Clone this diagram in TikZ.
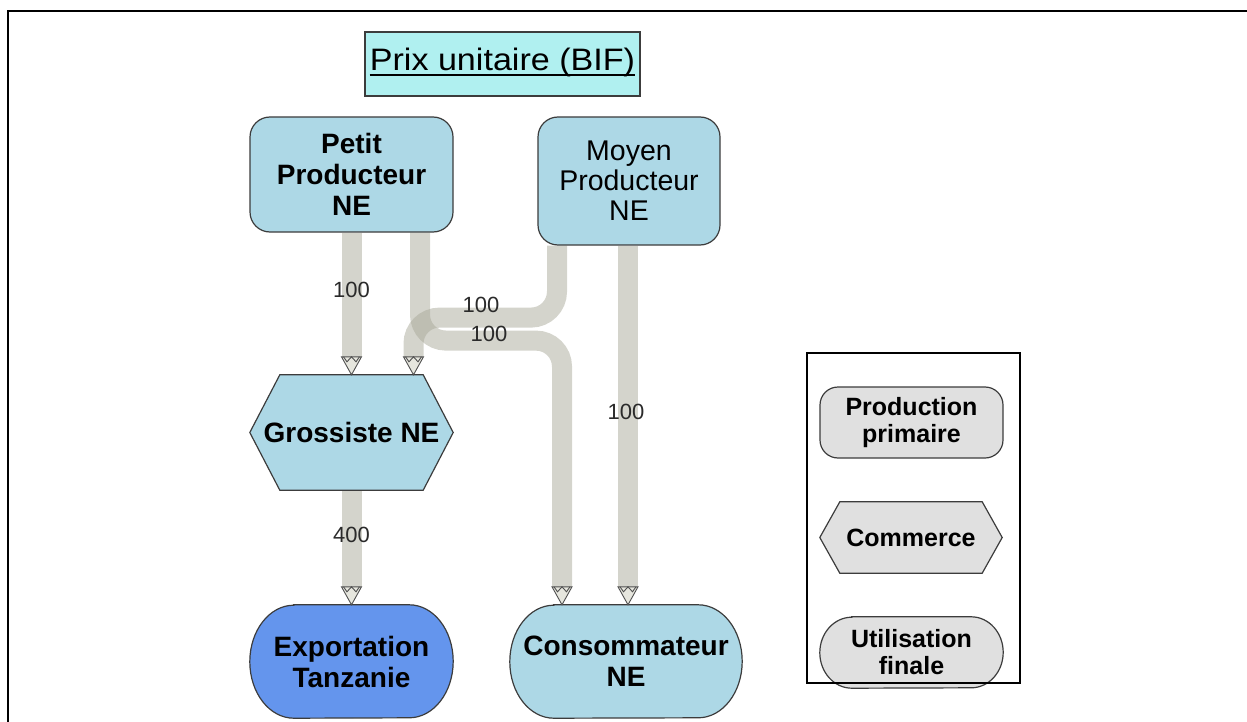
\documentclass[tikz,border=0pt]{standalone}
\usepackage{fontspec}
\setmainfont{Liberation Sans}
\usetikzlibrary{calc}

\pgfdeclarelayer{bandlayer}
\pgfdeclarelayer{shapelayer}
\pgfsetlayers{bandlayer,shapelayer,main}

\definecolor{nodeblue}{HTML}{ADD8E6}
\definecolor{exportblue}{HTML}{6495ED}
\definecolor{titlecyan}{HTML}{B0F0F0}
\definecolor{legendgray}{HTML}{E0E0E0}
\definecolor{edgegray}{HTML}{3C3C3C}
\definecolor{bandgray}{HTML}{A9A999}
\definecolor{tipfill}{HTML}{E6E6DE}
\definecolor{tipedge}{HTML}{505050}
\definecolor{labelgray}{HTML}{2A2A2A}

\tikzset{
  x=1pt, y=-1pt,
  every node/.style={align=center, inner sep=0pt},
  shapeedge/.style={draw=edgegray, line width=1.2pt},
  nodetext/.style={font=\fontsize{28}{31}\selectfont\bfseries},
  nodetextreg/.style={font=\fontsize{28.5}{30}\selectfont},
  legendtext/.style={font=\fontsize{25}{27}\selectfont\bfseries},
  flowlabel/.style={font=\fontsize{22}{24}\selectfont, text=labelgray},
  prodbox/.style={shapeedge, rectangle, rounded corners=20pt},
  band/.style={draw=bandgray, draw opacity=0.5, line width=20pt, rounded corners=26pt},
  tipstyle/.style={draw=tipedge, line width=0.9pt, fill=tipfill, line join=miter},
  pics/flowtip/.style={code={
    \draw[tipstyle] (0,0) -- (-10,-18) -- (10,-18) -- cycle;
    \draw[tipstyle, fill=none] (-8,-18) -- (-4.5,-13) -- (0,-18) -- (4.5,-13) -- (8,-18);
  }},
}

% stadium outline round a named node: node, x radius, y radius, fill
\newcommand\stadiumshape[4]{%
  \begin{pgfonlayer}{shapelayer}
    \draw[shapeedge, fill=#4] ([xshift=#2]#1.north west) -- ([xshift=-#2]#1.north east)
      arc[start angle=90, end angle=-90, x radius=#2, y radius=#3]
      -- ([xshift=#2]#1.south west)
      arc[start angle=270, end angle=90, x radius=#2, y radius=#3] -- cycle;
  \end{pgfonlayer}}

% hexagon outline round a named node: node, point depth, fill
\newcommand\hexshape[3]{%
  \begin{pgfonlayer}{shapelayer}
    \draw[shapeedge, fill=#3] ([xshift=#2]#1.north west) -- ([xshift=-#2]#1.north east)
      -- (#1.east) -- ([xshift=-#2]#1.south east) -- ([xshift=#2]#1.south west)
      -- (#1.west) -- cycle;
  \end{pgfonlayer}}

\begin{document}
\begin{tikzpicture}
\useasboundingbox (0,0) rectangle (1247,722);

% frame
\draw[line width=2.5pt] (8,722) -- (8,11) -- (1247,11);

% title
\node[draw=edgegray, line width=1.2pt, fill=titlecyan, minimum width=275pt, minimum height=64pt]
  (titlebox) at (502.5,64) {};
\node (ttl) at (502.5,62) {\scalebox{1.1}[1]{\fontsize{31}{36}\selectfont Prix unitaire (BIF)}};
\draw[line width=1.8pt] ([yshift=-5pt]ttl.base west) -- ([yshift=-5pt]ttl.base east);

% producers
\node[prodbox, fill=nodeblue, minimum width=203pt, minimum height=115pt, nodetext]
  (petit) at (351.5,174.5) {Petit\\Producteur\\NE};
\node[prodbox, fill=nodeblue, minimum width=182pt, minimum height=128pt, nodetextreg]
  (moyen) at (629,181) {Moyen\\Producteur\\NE};

% wholesaler
\node[minimum width=203pt, minimum height=115pt, nodetext]
  (gros) at (351.5,432.5) {Grossiste NE};
\hexshape{gros}{30pt}{nodeblue}

% end uses
\node[minimum width=203pt, minimum height=113pt, nodetext]
  (export) at (351.5,661.5) {Exportation\\Tanzanie};
\stadiumshape{export}{44pt}{56.5pt}{exportblue}
\node[minimum width=232pt, minimum height=113pt, nodetext]
  (cons) at (626,661.5) {Consommateur\\NE};
\stadiumshape{cons}{44pt}{56.5pt}{nodeblue}

% flows
\begin{pgfonlayer}{bandlayer}
  \draw[band] (petit.south) -- ([yshift=18pt]gros.north);
  \draw[band] ([xshift=68.5pt]petit.south) -- ++(0,108) -- ++(142,0)
    -- ([xshift=-64pt,yshift=18pt]cons.north);
  \draw[band] ([xshift=-72pt]moyen.south) -- ++(0,72) -- ++(-143.5,0)
    -- ([xshift=62pt,yshift=18pt]gros.north);
  \draw[band] ([xshift=-1pt]moyen.south) -- ([xshift=2pt,yshift=18pt]cons.north);
  \draw[band] (gros.south) -- ([yshift=18pt]export.north);
\end{pgfonlayer}

\pic at (gros.north) {flowtip};
\pic at ([xshift=62pt]gros.north) {flowtip};
\pic at ([xshift=-64pt]cons.north) {flowtip};
\pic at ([xshift=2pt]cons.north) {flowtip};
\pic at (export.north) {flowtip};

\node[flowlabel] (v1) at (351.5,290) {100};
\node[flowlabel] (v2) at (481,305) {100};
\node[flowlabel] (v3) at (489,333.5) {100};
\node[flowlabel] (v4) at (626,411.5) {100};
\node[flowlabel] (v5) at (351.5,535) {400};

% legend
\node[draw=black, line width=1.3pt, minimum width=213pt, minimum height=330pt]
  (legend) at (913.5,518) {};
\node[prodbox, fill=legendgray, rounded corners=18pt, minimum width=183pt, minimum height=71pt, legendtext]
  (lprod) at (911.5,422.5) {Production\\primaire};
\node[minimum width=182pt, minimum height=71pt, legendtext]
  (lcomm) at (911,537.5) {Commerce};
\hexshape{lcomm}{20pt}{legendgray}
\node[minimum width=183pt, minimum height=71pt, legendtext]
  (lutil) at (911.5,652.5) {Utilisation\\finale};
\stadiumshape{lutil}{32pt}{35.5pt}{legendgray}

\end{tikzpicture}
\end{document}
